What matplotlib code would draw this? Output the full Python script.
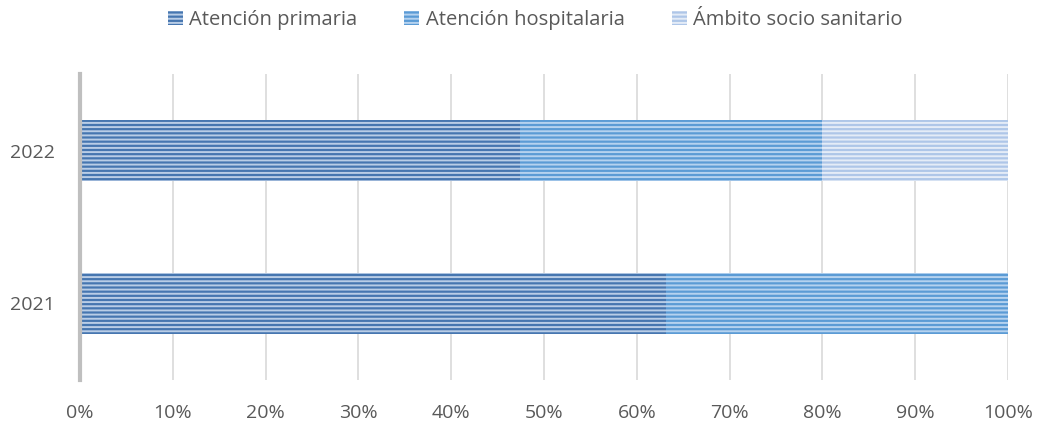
import matplotlib
matplotlib.use("Agg")
import matplotlib.pyplot as plt
import numpy as np

years = ["2021", "2022"]
series_names = ["Atención primaria", "Atención hospitalaria", "Ámbito socio sanitario"]
primaria = [63.2, 47.4]
hospitalaria = [36.8, 32.6]
sociosanitario = [0.0, 20.0]
x_ticks = [0, 10, 20, 30, 40, 50, 60, 70, 80, 90, 100]
x_tick_labels = [f"{v}%" for v in x_ticks]

fills = ["#4676b0", "#5b9bd5", "#aec6e8"]
stripes = ["#b9cde6", "#b5d2ef", "#e4ecf7"]

plt.rcParams["font.family"] = ["Open Sans", "DejaVu Sans"]
plt.rcParams["hatch.linewidth"] = 1.4

fig = plt.figure(figsize=(10.37, 4.23), dpi=100)
ax = fig.add_axes([80 / 1037, 1 - 380 / 423, 928 / 1037, 306 / 423])

ypos = np.arange(len(years))
left = np.zeros(len(years))
for vals, name, fc, hc in zip([primaria, hospitalaria, sociosanitario],
                              series_names, fills, stripes):
    ax.barh(ypos, vals, left=left, height=0.405, color=fc, edgecolor=hc,
            linewidth=0, hatch="----", label=name, zorder=2)
    left += np.array(vals)

ax.set_xlim(0, 100)
ax.set_ylim(-0.5, 1.5)
ax.set_xticks(x_ticks)
ax.set_xticklabels(x_tick_labels)
ax.set_yticks(ypos)
ax.set_yticklabels(years)
ax.tick_params(axis="both", length=0, labelsize=14, colors="#595959")
ax.tick_params(axis="x", pad=17)
ax.tick_params(axis="y", pad=18)
ax.xaxis.grid(True, color="#d9d9d9", linewidth=1.2, zorder=0)
ax.set_axisbelow(True)
for s in ["top", "right", "bottom"]:
    ax.spines[s].set_visible(False)
ax.spines["left"].set_color("#bfbfbf")
ax.spines["left"].set_linewidth(3)

leg = fig.legend(loc="center", bbox_to_anchor=(0.516, 1 - 20 / 423), ncol=3,
                 frameon=False, fontsize=14.5, handlelength=0.75,
                 handleheight=0.75, handletextpad=0.3, columnspacing=2.35)
for t in leg.get_texts():
    t.set_color("#595959")

fig.savefig("out.png", dpi=100)
